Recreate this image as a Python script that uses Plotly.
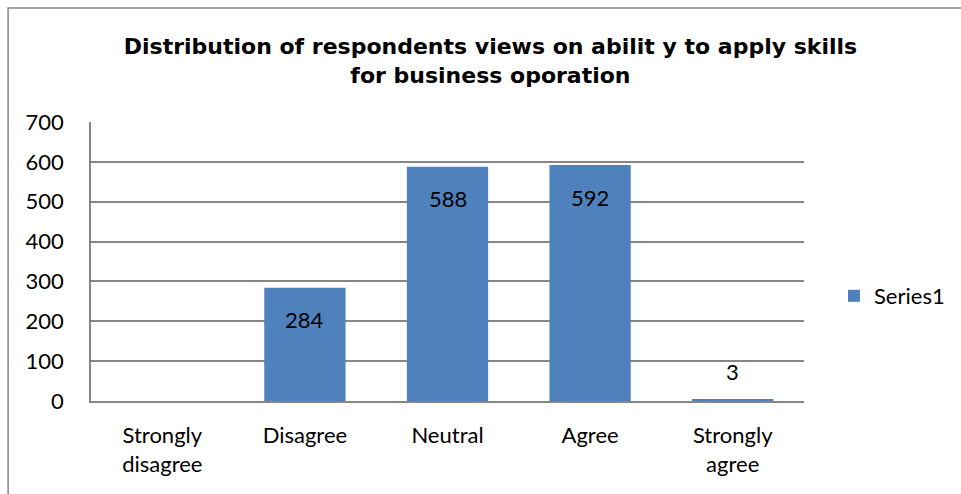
import plotly.graph_objects as go

categories = ["Strongly<br>disagree", "Disagree", "Neutral", "Agree", "Strongly<br>agree"]
values = [None, 284, 588, 592, 3]
label_shift = [0, -32, -32, -32, 28]
series_name = "Series1"
y_ticks = [0, 100, 200, 300, 400, 500, 600, 700]

W, H = 961, 494
L, R, T, B = 91, 156, 122, 93
pw, ph = W - L - R, H - T - B
FONT = "Lato, Open Sans, sans-serif"

fig = go.Figure()
fig.add_trace(go.Bar(
    x=categories, y=values, name=series_name,
    marker=dict(color="#4F81BD", line=dict(width=0)),
    showlegend=True,
))

for c, v, s in zip(categories, values, label_shift):
    if v is None:
        continue
    fig.add_annotation(x=c, y=v, text=str(v), xref="x", yref="y",
                       showarrow=False, yshift=s,
                       font=dict(family=FONT, size=22, color="#000000"))

def px_x(p):
    return (p - L) / pw

def px_y(p):
    return (H - B - p) / ph

fig.add_shape(type="rect", xref="paper", yref="paper",
              x0=px_x(8), x1=px_x(1200), y0=px_y(8), y1=px_y(800),
              line=dict(color="#868686", width=1.5), fillcolor="rgba(0,0,0,0)", layer="below")

fig.update_layout(
    width=W, height=H,
    margin=dict(l=L, r=R, t=T, b=B),
    paper_bgcolor="white", plot_bgcolor="white",
    bargap=0.43,
    title=dict(
        text="<b>Distribution of respondents views on abilit y to apply skills<br>for business oporation</b>",
        x=px_x(491), xref="paper", xanchor="center",
        y=1 - 54 / H, yref="container", yanchor="top",
        font=dict(family="DejaVu Sans, sans-serif", size=22, color="#000000"),
    ),
    legend=dict(x=px_x(834), y=px_y(296), xanchor="left", yanchor="middle",
                font=dict(family=FONT, size=22, color="#000000"),
                itemwidth=30, bgcolor="rgba(0,0,0,0)"),
    xaxis=dict(
        showgrid=False, showline=True, linecolor="#868686", linewidth=1.5,
        ticks="", tickfont=dict(family=FONT, size=22, color="#000000"),
        ticklabelstandoff=14,
    ),
    yaxis=dict(
        range=[0, 700], tickvals=y_ticks, showgrid=True, gridcolor="#868686", gridwidth=1.5,
        showline=True, linecolor="#868686", linewidth=1.5, zeroline=False,
        ticks="", tickfont=dict(family=FONT, size=22, color="#000000"),
        ticklabelstandoff=21,
    ),
)

fig.write_html("out.html")
